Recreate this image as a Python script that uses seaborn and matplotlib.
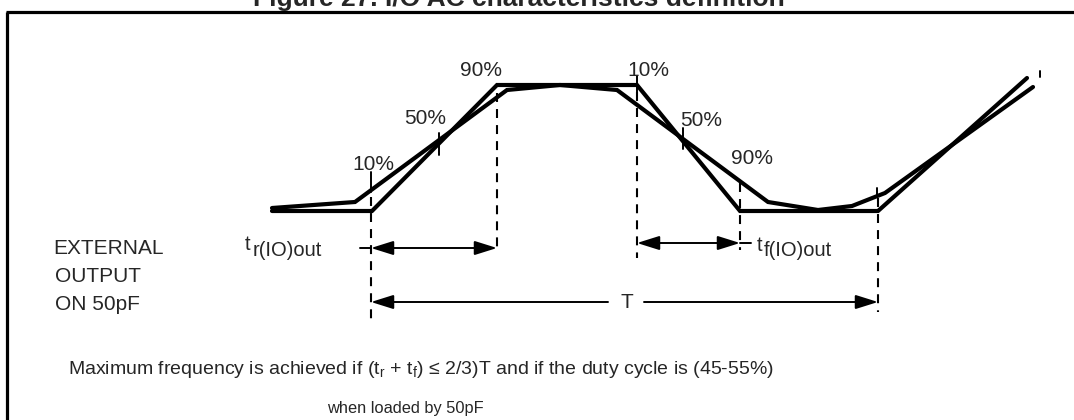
import matplotlib
matplotlib.use("Agg")
import matplotlib.pyplot as plt
import seaborn as sns
import pandas as pd

# ---- waveform data (time axis -> level axis, drawing units) ----
fast_time = [272, 372, 497, 637, 740, 878, 1027]
fast_level = [211, 211, 85, 85, 211, 211, 78]
slow_time = [272, 355, 507, 560, 617, 768, 818, 852, 885, 1033]
slow_level = [208, 202, 90, 85, 90, 202, 210, 206, 193, 87]

# threshold labels
pct_labels = ["10%", "50%", "90%", "10%", "50%", "90%"]
pct_time = [373, 425, 481, 648, 701, 752]
pct_level = [165, 118, 71, 70, 121, 158]

# small crossing ticks
tick_time = [371, 439, 637, 683, 877, 1040]
tick_top = [172, 133, 76, 128, 188, 71]
tick_bottom = [192, 155, 92, 149, 196, 77]

# dashed guide lines
guide_time = [371, 497, 637, 740, 878]
guide_top = [197, 93, 92, 183, 198]
guide_bottom = [322, 252, 258, 250, 312]

title = "Figure 27. I/O AC characteristics definition"
side_labels = ["EXTERNAL", "OUTPUT", "ON 50pF"]

sns.set_theme(style="white")
plt.rcParams["font.family"] = ["Liberation Sans", "DejaVu Sans"]
plt.rcParams["mathtext.fontset"] = "custom"
plt.rcParams["mathtext.rm"] = "Liberation Sans"

fig = plt.figure(figsize=(10.74, 4.2), dpi=100)
ax = fig.add_axes([0, 0, 1, 1])

# waveforms
df_fast = pd.DataFrame({"t": fast_time, "v": fast_level})
df_slow = pd.DataFrame({"t": slow_time, "v": slow_level})
sns.lineplot(data=df_fast, x="t", y="v", sort=False, estimator=None, ax=ax,
             color="black", lw=3.0, solid_joinstyle="miter")
sns.lineplot(data=df_slow, x="t", y="v", sort=False, estimator=None, ax=ax,
             color="black", lw=3.0, solid_joinstyle="miter")
ax.set_xlim(0, 1074)
ax.set_ylim(420, 0)
ax.axis("off")

# frame
ax.plot([7, 7], [12, 421], color="black", lw=2.3, solid_capstyle="butt")
ax.plot([6, 1075], [12, 12], color="black", lw=2.3, solid_capstyle="butt")

# title (mostly cut off at top)
ax.text(519, 6, title, ha="center", va="baseline", fontsize=19, fontweight="bold")

# ticks
for x, y0, y1 in zip(tick_time, tick_top, tick_bottom):
    ax.plot([x, x], [y0, y1], color="black", lw=1.4)

# dashed guides
for x, y0, y1 in zip(guide_time, guide_top, guide_bottom):
    ax.plot([x, x], [y0, y1], color="black", lw=1.5, linestyle=(0, (4.3, 3.4)))

# percentage labels
for s, x, y in zip(pct_labels, pct_time, pct_level):
    ax.text(x, y, s, ha="center", va="center", fontsize=15)

arrow = "<|-|>,head_length=1.37,head_width=0.43"
single = "-|>,head_length=1.37,head_width=0.43"
akw = dict(color="black", lw=1.4, shrinkA=0, shrinkB=0, mutation_scale=10)

# t_r arrow
ax.annotate("", xy=(497, 248), xytext=(371, 248), arrowprops=dict(arrowstyle=arrow, **akw))
ax.plot([360, 371], [248, 248], color="black", lw=1.4)
# t_f arrow
ax.annotate("", xy=(740, 243), xytext=(637, 243), arrowprops=dict(arrowstyle=arrow, **akw))
ax.plot([740, 751], [243, 243], color="black", lw=1.4)
# T arrow
ax.annotate("", xy=(371, 302), xytext=(608, 302), arrowprops=dict(arrowstyle=single, **akw))
ax.annotate("", xy=(878, 302), xytext=(644, 302), arrowprops=dict(arrowstyle=single, **akw))
ax.text(627, 302, "T", ha="center", va="center", fontsize=15)

# t_r / t_f labels
ax.text(245, 250, "t", ha="left", va="baseline", fontsize=14.5)
ax.text(253, 256, "r(IO)out", ha="left", va="baseline", fontsize=14.5)
ax.text(757, 251, "t", ha="left", va="baseline", fontsize=14.5)
ax.text(764, 256, "f(IO)out", ha="left", va="baseline", fontsize=14.5)

# side labels
for s, x, y in zip(side_labels, [53, 55, 55], [248, 277, 305]):
    ax.text(x, y, s, ha="left", va="center", fontsize=15)

# notes
ax.text(68, 369, "Maximum frequency is achieved if (t$_\\mathregular{r}$ + t$_\\mathregular{f}$) \u2264 2/3)T and if the duty cycle is (45-55%)",
        ha="left", va="center", fontsize=14.0)
ax.text(405, 408, "when loaded by 50pF", ha="center", va="center", fontsize=11.8)

fig.savefig("out.png", dpi=100)
